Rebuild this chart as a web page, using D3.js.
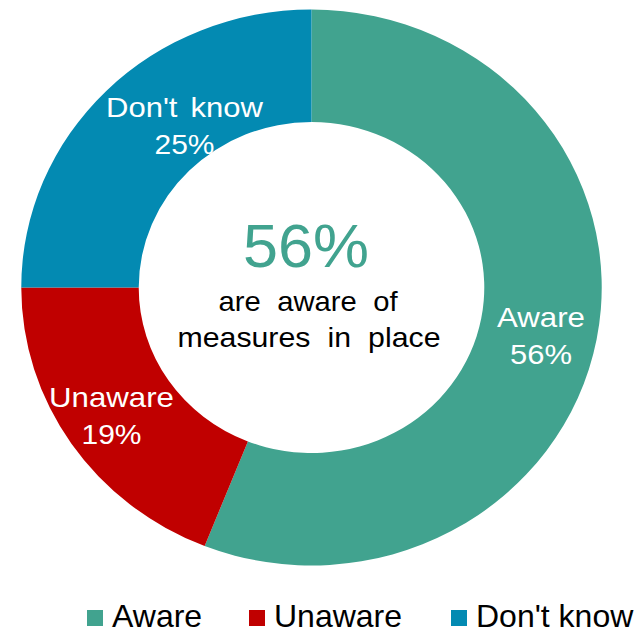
<!DOCTYPE html>
<html>
<head>
<meta charset="utf-8">
<script src="https://cdn.jsdelivr.net/npm/d3@7"></script>
<style>
  html, body { margin: 0; padding: 0; background: #fff; }
  svg { display: block; font-family: "Liberation Sans", Arial, sans-serif; }
</style>
</head>
<body>
<svg id="chart" width="641" height="629"></svg>
<script>
const categories = ["Aware", "Unaware", "Don't know"];
const values = [56, 19, 25];
const colors = ["#41A38F", "#C00000", "#038AB2"];
const headline = "56%";
const subtitle = ["are aware of", "measures in place"];

const svg = d3.select("#chart");
const cx = 311.5, cy = 287.5, outerR = 278, innerR = 165.5, sx = 1.044;

const pie = d3.pie().sort(null).value(d => d.value).startAngle(0).endAngle(2 * Math.PI);
const data = categories.map((c, i) => ({ name: c, value: values[i], color: colors[i] }));
const arcs = pie(data);
const arc = d3.arc().innerRadius(innerR).outerRadius(outerR);

const ring = svg.append("g").attr("transform", `translate(${cx},${cy}) scale(${sx},1)`);
ring.selectAll("path").data(arcs).enter().append("path")
  .attr("d", arc).attr("fill", d => d.data.color);

// slice labels
const labelPos = {
  "Aware": [541, 327],
  "Unaware": [111.5, 407],
  "Don't know": [184.5, 117]
};
const nameWidths = { "Aware": 88, "Unaware": 125, "Don't know": 157 };
const pctWidths = { "Aware": 62, "Unaware": 60, "Don't know": 60 };
arcs.forEach(a => {
  const [lx, ly] = labelPos[a.data.name];
  const g = svg.append("g").attr("fill", "#fff").attr("font-size", 28).attr("text-anchor", "middle");
  g.append("text").attr("x", lx).attr("y", ly).attr("word-spacing", 4)
    .attr("textLength", nameWidths[a.data.name]).attr("lengthAdjust", "spacingAndGlyphs")
    .text(a.data.name);
  g.append("text").attr("x", lx).attr("y", ly + 37)
    .attr("textLength", pctWidths[a.data.name]).attr("lengthAdjust", "spacingAndGlyphs")
    .text(d3.format(".0f")(a.data.value) + "%");
});

// center text
svg.append("text").attr("x", 306).attr("y", 267).attr("text-anchor", "middle")
  .attr("font-size", 62).attr("fill", colors[0])
  .attr("textLength", 126).attr("lengthAdjust", "spacingAndGlyphs").text(headline);
svg.append("text").attr("x", 308).attr("y", 311).attr("text-anchor", "middle")
  .attr("font-size", 28).attr("fill", "#000").attr("word-spacing", 8)
  .attr("textLength", 179).attr("lengthAdjust", "spacingAndGlyphs").text(subtitle[0]);
svg.append("text").attr("x", 309).attr("y", 347).attr("text-anchor", "middle")
  .attr("font-size", 28).attr("fill", "#000").attr("word-spacing", 8)
  .attr("textLength", 263).attr("lengthAdjust", "spacingAndGlyphs").text(subtitle[1]);

// legend
const legendX = [87, 249, 451];
const legend = svg.append("g");
data.forEach((d, i) => {
  legend.append("rect").attr("x", legendX[i]).attr("y", 610).attr("width", 16).attr("height", 16).attr("fill", d.color);
  legend.append("text").attr("x", legendX[i] + 25).attr("y", 627).attr("font-size", 32).attr("fill", "#000").text(d.name);
});
</script>
</body>
</html>
